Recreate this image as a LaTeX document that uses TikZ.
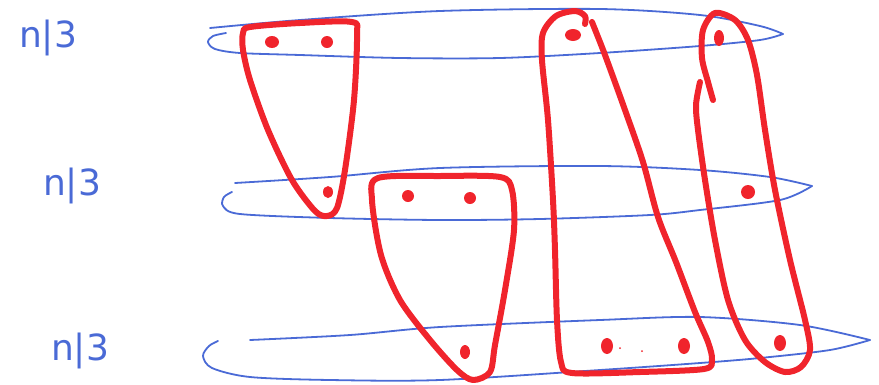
\documentclass[tikz,border=0pt]{standalone}
\usepackage{fontspec}
\setsansfont{DejaVu Sans}
\usepackage{tikz}
\usetikzlibrary{calc}
\definecolor{sketchblue}{HTML}{4A6AD6}
\definecolor{sketchred}{HTML}{F0242C}
\tikzset{%
  sketchring/.style={%
    draw=sketchblue,
    line width=1.8pt,
    line cap=round,
    line join=round
  },
  sketchgroup/.style={%
    draw=sketchred,
    line width=6pt,
    line cap=round,
    line join=round
  },
  sketchdot/.style={fill=sketchred},
  sketchlabel/.style={%
    text=sketchblue,
    font=\sffamily\fontsize{36}{36}\selectfont
  }
}
\begin{document}
\begin{tikzpicture}[x=1pt,y=-1pt]
    \useasboundingbox (0,0) rectangle (879,384);

    % row labels
    \node[sketchlabel] (labeltop) at (48,38) {n|3};
    \node[sketchlabel] (labelmid) at (72,186) {n|3};
    \node[sketchlabel] (labelbot) at (80,351) {n|3};

    % rows (blue)
    \draw[sketchring] plot[smooth,tension=0.5] coordinates {(210,28) (300,20) (440,11) (600,9) (700,15) (760,26) (783,34)};
    \draw[sketchring] plot[smooth,tension=0.5] coordinates {(783,34) (760,40) (700,46) (600,53) (500,58) (400,58) (300,55) (240,53) (215,49) (208,42) (213,36) (226,33)};
    \draw[sketchring] plot[smooth,tension=0.5] coordinates {(235,183) (330,177) (440,168) (600,166) (700,170) (770,177) (812,186)};
    \draw[sketchring] plot[smooth,tension=0.5] coordinates {(812,186) (780,200) (700,210) (650,215) (540,219) (440,220) (330,218) (240,214) (223,206) (224,197) (232,192)};
    \draw[sketchring] plot[smooth,tension=0.5] coordinates {(250,340) (350,335) (440,327) (600,320) (700,317) (800,325) (870,340)};
    \draw[sketchring] plot[smooth,tension=0.5] coordinates {(870,340) (830,350) (760,358) (700,363) (600,370) (440,380) (330,380) (250,377) (212,368) (203,356) (209,346) (218,341)};

    % groups (red)
    \draw[sketchgroup] plot[smooth cycle,tension=0.5] coordinates {(250,27) (300,23) (352,22) (357,35) (354,100) (345,170) (337,208) (327,216) (315,211) (292,180) (268,130) (250,80) (243,50) (243,33)};
    \draw[sketchgroup] plot[smooth cycle,tension=0.5] coordinates {(378,178) (440,176) (500,177) (512,190) (514,230) (505,290) (495,345) (490,372) (473,380) (457,370) (430,340) (400,300) (381,255) (372,200)};
    \draw[sketchgroup] plot[smooth,tension=0.5] coordinates {(592,22) (605,55) (625,110) (643,162) (658,217) (676,262) (695,312) (708,342) (712,360) (704,369) (640,372) (572,373) (561,362) (557,320) (555,250) (553,200) (548,120) (542,60) (543,33) (556,16) (575,11) (585,16) (585,24)};
    \draw[sketchgroup] plot[smooth,tension=0.5] coordinates {(713,100) (708,82) (702,58) (703,30) (715,13) (735,20) (748,40) (757,75) (765,130) (775,190) (790,260) (805,320) (810,350) (801,367) (785,372) (765,362) (745,340) (728,300) (715,240) (705,180) (698,130) (696,105) (700,82)};

    % vertices
    \fill[sketchdot] (272,42) ellipse (7 and 6);
    \fill[sketchdot] (327,42) ellipse (6 and 6);
    \fill[sketchdot] (328,192) ellipse (5 and 6);
    \fill[sketchdot] (408,196) ellipse (6 and 6);
    \fill[sketchdot] (470,198) ellipse (6 and 6);
    \fill[sketchdot] (465,352) ellipse (5 and 7);
    \fill[sketchdot] (573,35) ellipse (8 and 6);
    \fill[sketchdot] (719,38) ellipse (5 and 8);
    \fill[sketchdot] (748,192) ellipse (7 and 7);
    \fill[sketchdot] (607,346) ellipse (6 and 8);
    \fill[sketchdot] (684,346) ellipse (6 and 8);
    \fill[sketchdot] (620,348) circle (1);
    \fill[sketchdot] (642,351) circle (1);
    \fill[sketchdot] (780,343) ellipse (6 and 8);
  \end{tikzpicture}
\end{document}
